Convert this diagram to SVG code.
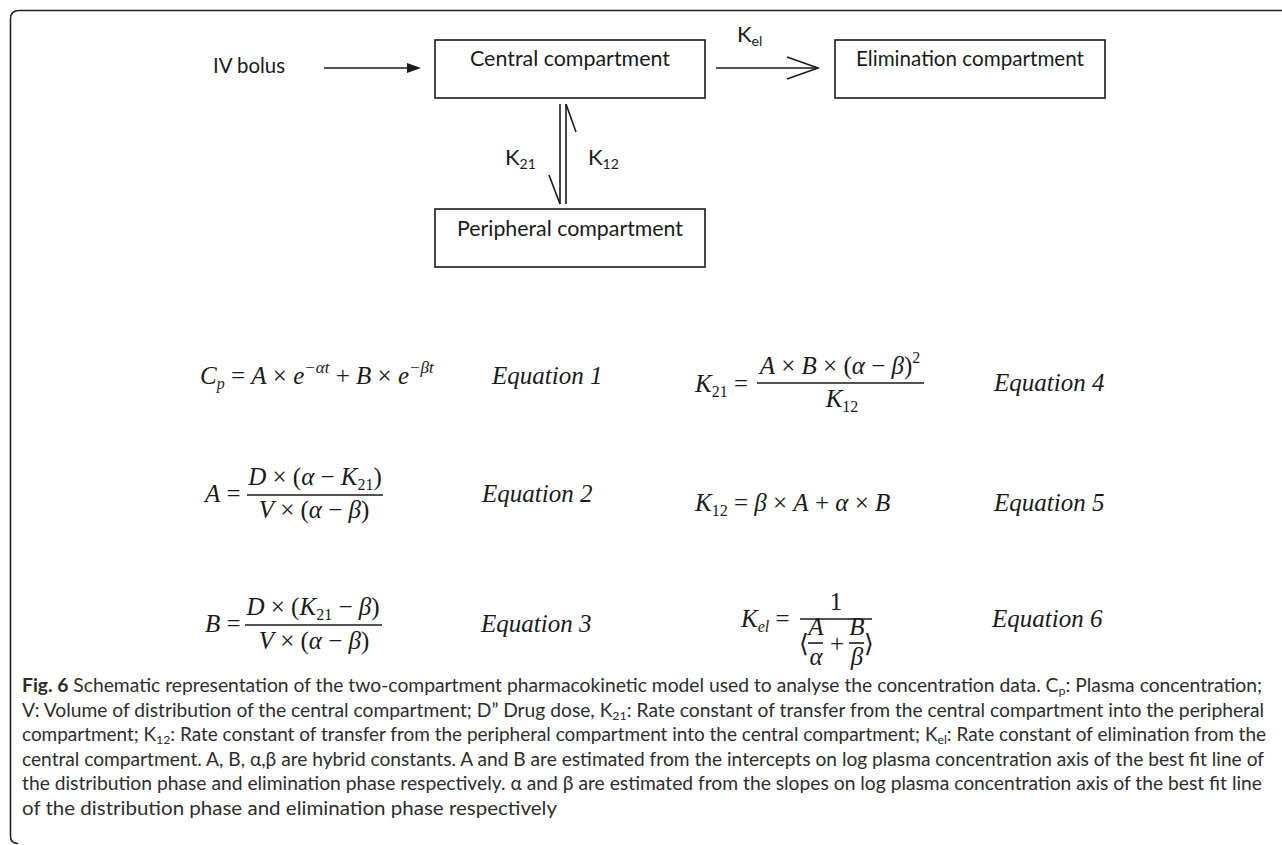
<svg xmlns="http://www.w3.org/2000/svg" width="1282" height="845" viewBox="0 0 1282 845">
<style>
.frame{fill:none;stroke:#222;stroke-width:1.6}
.box{fill:#fff;stroke:#1a1a1a;stroke-width:1.6}
.ln{fill:none;stroke:#1a1a1a;stroke-width:1.6}
.lbl{font-family:Lato,"Open Sans",sans-serif;font-size:22px;fill:#1a1a1a}
.m{font-family:"Liberation Serif","Times New Roman",serif;font-size:25px;fill:#1a1a1a}
.i{font-style:italic}
.cap{font-family:Lato,"Open Sans",sans-serif;font-size:18.5px;fill:#2d2d2d}
</style>
<path class="frame" d="M1282 10.5 H19 Q10.5 10.5 10.5 19 V836 Q10.5 843.5 18 843.5"/>
<g id="connectors">
<line class="ln" x1="324" y1="68" x2="410" y2="68"/>
<polygon points="421,68 407,63 407,73" fill="#1a1a1a"/>
<line class="ln" x1="716" y1="68" x2="817" y2="68"/>
<polyline class="ln" points="787,57 818,68 787,79"/>
<line class="ln" x1="560" y1="104" x2="560" y2="204"/>
<line class="ln" x1="549" y1="175" x2="560" y2="204"/>
<line class="ln" x1="566" y1="104" x2="566" y2="204"/>
<line class="ln" x1="566" y1="104" x2="576" y2="132"/>
<text class="lbl" x="737" y="42">K<tspan font-size="14" dy="4">el</tspan></text>
<text class="lbl" x="505" y="165">K<tspan font-size="14" dy="4">21</tspan></text>
<text class="lbl" x="588" y="165">K<tspan font-size="14" dy="4">12</tspan></text>
</g>
<g id="iv-bolus">
<text class="lbl" x="213" y="73" textLength="72" lengthAdjust="spacingAndGlyphs">IV bolus</text>
</g>
<g id="central">
<rect class="box" x="435" y="40" width="270" height="58"/>
<text class="lbl" x="570" y="66" text-anchor="middle" textLength="200" lengthAdjust="spacingAndGlyphs">Central compartment</text>
</g>
<g id="elimination">
<rect class="box" x="835" y="40" width="270" height="58"/>
<text class="lbl" x="970" y="66" text-anchor="middle" textLength="228" lengthAdjust="spacingAndGlyphs">Elimination compartment</text>
</g>
<g id="peripheral">
<rect class="box" x="435" y="209" width="270" height="58"/>
<text class="lbl" x="570" y="236" text-anchor="middle" textLength="226" lengthAdjust="spacingAndGlyphs">Peripheral compartment</text>
</g>
<g id="eq1">
<text class="m" x="200" y="384"><tspan class="i">C</tspan><tspan class="i" font-size="16" dy="5">p</tspan><tspan dy="-5"> = </tspan><tspan class="i">A</tspan> × <tspan class="i">e</tspan><tspan class="i" font-size="17" dy="-11">−αt</tspan><tspan dy="11"> + </tspan><tspan class="i">B</tspan> × <tspan class="i">e</tspan><tspan class="i" font-size="17" dy="-11">−βt</tspan></text>
<text class="m i" x="492" y="384">Equation 1</text>
</g>
<g id="eq4">
<text class="m" x="695" y="392"><tspan class="i">K</tspan><tspan font-size="16" dy="5">21</tspan><tspan dy="-5"> =</tspan></text>
<text class="m" x="840" y="374" text-anchor="middle"><tspan class="i">A</tspan> × <tspan class="i">B</tspan> × (<tspan class="i">α</tspan> − <tspan class="i">β</tspan>)<tspan font-size="16" dy="-11">2</tspan></text>
<line class="ln" x1="757" y1="383" x2="924" y2="383"/>
<text class="m" x="842" y="407" text-anchor="middle"><tspan class="i">K</tspan><tspan font-size="16" dy="5">12</tspan></text>
<text class="m i" x="994" y="391">Equation 4</text>
</g>
<g id="eq2">
<text class="m" x="205" y="502"><tspan class="i">A</tspan> =</text>
<text class="m" x="315" y="485" text-anchor="middle"><tspan class="i">D</tspan> × (<tspan class="i">α</tspan> − <tspan class="i">K</tspan><tspan font-size="16" dy="5">21</tspan><tspan dy="-5">)</tspan></text>
<line class="ln" x1="247" y1="495" x2="383" y2="495"/>
<text class="m" x="314" y="518" text-anchor="middle"><tspan class="i">V</tspan> × (<tspan class="i">α</tspan> − <tspan class="i">β</tspan>)</text>
<text class="m i" x="482" y="502">Equation 2</text>
</g>
<g id="eq5">
<text class="m" x="695" y="511"><tspan class="i">K</tspan><tspan font-size="16" dy="5">12</tspan><tspan dy="-5"> = </tspan><tspan class="i">β</tspan> × <tspan class="i">A</tspan> + <tspan class="i">α</tspan> × <tspan class="i">B</tspan></text>
<text class="m i" x="994" y="511">Equation 5</text>
</g>
<g id="eq3">
<text class="m" x="205" y="632"><tspan class="i">B</tspan> =</text>
<text class="m" x="313" y="615" text-anchor="middle"><tspan class="i">D</tspan> × (<tspan class="i">K</tspan><tspan font-size="16" dy="5">21</tspan><tspan dy="-5"> − </tspan><tspan class="i">β</tspan>)</text>
<line class="ln" x1="245" y1="625" x2="382" y2="625"/>
<text class="m" x="314" y="649" text-anchor="middle"><tspan class="i">V</tspan> × (<tspan class="i">α</tspan> − <tspan class="i">β</tspan>)</text>
<text class="m i" x="481" y="632">Equation 3</text>
</g>
<g id="eq6">
<text class="m" x="741" y="627"><tspan class="i">K</tspan><tspan class="i" font-size="16" dy="5">el</tspan><tspan dy="-5"> =</tspan></text>
<text class="m" x="836" y="610" text-anchor="middle">1</text>
<line class="ln" x1="800" y1="619" x2="872" y2="619"/>
<text class="m" x="799" y="652" font-family="DejaVu Serif,serif" font-size="19">⟨</text>
<text class="m i" x="816" y="635" text-anchor="middle" font-size="17">A</text>
<line class="ln" x1="808" y1="643" x2="823" y2="643" stroke-width="1.2"/>
<text class="m i" x="816" y="665" text-anchor="middle" font-size="17">α</text>
<text class="m" x="837" y="652" text-anchor="middle">+</text>
<text class="m i" x="857" y="635" text-anchor="middle" font-size="17">B</text>
<line class="ln" x1="849" y1="643" x2="864" y2="643" stroke-width="1.2"/>
<text class="m i" x="857" y="665" text-anchor="middle" font-size="17">β</text>
<text class="m" x="864" y="652" font-family="DejaVu Serif,serif" font-size="19">⟩</text>
<text class="m i" x="992" y="627">Equation 6</text>
</g>
<g id="caption">
<text class="cap" x="22" y="692" textLength="1240" lengthAdjust="spacingAndGlyphs"><tspan font-weight="bold">Fig. 6</tspan> Schematic representation of the two-compartment pharmacokinetic model used to analyse the concentration data. C<tspan font-size="12" dy="3">p</tspan><tspan dy="-3">: Plasma concentration;</tspan></text>
<text class="cap" x="22" y="717" textLength="1242" lengthAdjust="spacingAndGlyphs">V: Volume of distribution of the central compartment; D” Drug dose, K<tspan font-size="12" dy="3">21</tspan><tspan dy="-3">: Rate constant of transfer from the central compartment into the peripheral</tspan></text>
<text class="cap" x="22" y="741" textLength="1244" lengthAdjust="spacingAndGlyphs">compartment; K<tspan font-size="12" dy="3">12</tspan><tspan dy="-3">: Rate constant of transfer from the peripheral compartment into the central compartment; K</tspan><tspan font-size="12" dy="3">el</tspan><tspan dy="-3">: Rate constant of elimination from the</tspan></text>
<text class="cap" x="22" y="766" textLength="1242" lengthAdjust="spacingAndGlyphs">central compartment. A, B, α,β are hybrid constants. A and B are estimated from the intercepts on log plasma concentration axis of the best fit line of</text>
<text class="cap" x="22" y="790" textLength="1240" lengthAdjust="spacingAndGlyphs">the distribution phase and elimination phase respectively. α and β are estimated from the slopes on log plasma concentration axis of the best fit line</text>
<text class="cap" x="22" y="815" textLength="535" lengthAdjust="spacingAndGlyphs">of the distribution phase and elimination phase respectively</text>
</g>
</svg>
